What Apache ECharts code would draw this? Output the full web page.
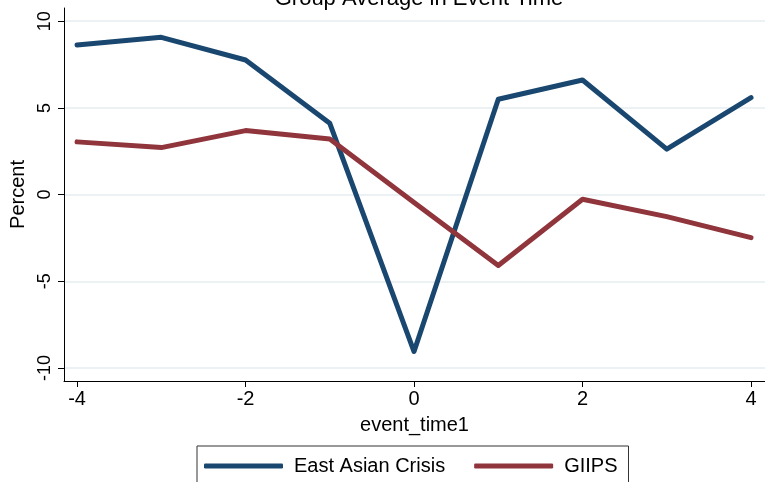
<!DOCTYPE html>
<html>
<head>
<meta charset="utf-8">
<script src="https://cdn.jsdelivr.net/npm/echarts@6/dist/echarts.min.js"></script>
<style>
  html,body{margin:0;padding:0;background:#fff;}
  #chart{width:765px;height:482px;}
</style>
</head>
<body>
<div id="chart"></div>
<script>
// event time, and the two group averages (percent)
var eventTime = [-4, -3, -2, -1, 0, 1, 2, 3, 4];
var eastAsian = [8.63, 9.07, 7.76, 4.11, -9.05, 5.5, 6.61, 2.62, 5.59];
var giips = [3.04, 2.71, 3.69, 3.2, -0.45, -4.09, -0.27, -1.27, -2.48];

var xTicks = [-4, -2, 0, 2, 4];
var yTicks = [-10, -5, 0, 5, 10];

function pairs(ys){
  var out = [];
  for (var i = 0; i < eventTime.length; i++) {
    out.push([eventTime[i], ys[i]]);
  }
  return out;
}

var font = 'Liberation Sans, Arial, sans-serif';
var myChart = echarts.init(document.getElementById('chart'));

var option = {
  backgroundColor: '#fff',
  animation: false,
  title: {
    text: 'Group Average in Event Time',
    left: 414,
    textAlign: 'center',
    top: -17,
    textStyle: {fontFamily: font, fontSize: 22, fontWeight: 'normal', color: '#000'}
  },
  grid: {left: 64, right: 0, top: 8, bottom: 101},
  legend: {
    left: 197,
    top: 446,
    padding: [10, 11, 20, 7],
    itemGap: 29,
    itemWidth: 79,
    itemHeight: 5,
    icon: 'roundRect',
    borderColor: '#333',
    borderWidth: 1,
    textStyle: {fontFamily: font, fontSize: 20, color: '#000', padding: [0, 0, 0, 6]},
    data: ['East Asian Crisis', 'GIIPS']
  },
  xAxis: {
    type: 'value',
    min: -4.155,
    max: 4.166,
    name: 'event_time1',
    nameLocation: 'middle',
    nameGap: 34,
    nameTextStyle: {fontFamily: font, fontSize: 20, color: '#000'},
    axisLine: {show: true, onZero: false, lineStyle: {color: '#000', width: 1}},
    axisTick: {show: true, length: 6, customValues: xTicks, lineStyle: {color: '#000'}},
    axisLabel: {customValues: xTicks, margin: 8, fontFamily: font, fontSize: 20, color: '#000'},
    splitLine: {show: false}
  },
  yAxis: {
    type: 'value',
    min: -10.75,
    max: 10.76,
    name: 'Percent',
    nameLocation: 'middle',
    nameRotate: 90,
    nameGap: 35,
    nameTextStyle: {fontFamily: font, fontSize: 20, color: '#000'},
    axisLine: {show: true, onZero: false, lineStyle: {color: '#000', width: 1}},
    axisTick: {show: true, length: 6, customValues: yTicks, lineStyle: {color: '#000'}},
    axisLabel: {customValues: yTicks, rotate: 90, margin: 10, fontFamily: font, fontSize: 18, color: '#000'},
    splitLine: {show: true, lineStyle: {color: '#e6eef1', width: 1.5}}
  },
  series: [
    {
      name: 'East Asian Crisis',
      type: 'line',
      showSymbol: false,
      symbol: 'none',
      itemStyle: {color: '#1a476f'},
      lineStyle: {color: '#1a476f', width: 5, cap: 'round', join: 'round'},
      data: pairs(eastAsian)
    },
    {
      name: 'GIIPS',
      type: 'line',
      showSymbol: false,
      symbol: 'none',
      itemStyle: {color: '#90353b'},
      lineStyle: {color: '#90353b', width: 5, cap: 'round', join: 'round'},
      data: pairs(giips)
    }
  ]
};

myChart.setOption(option);
</script>
</body>
</html>
